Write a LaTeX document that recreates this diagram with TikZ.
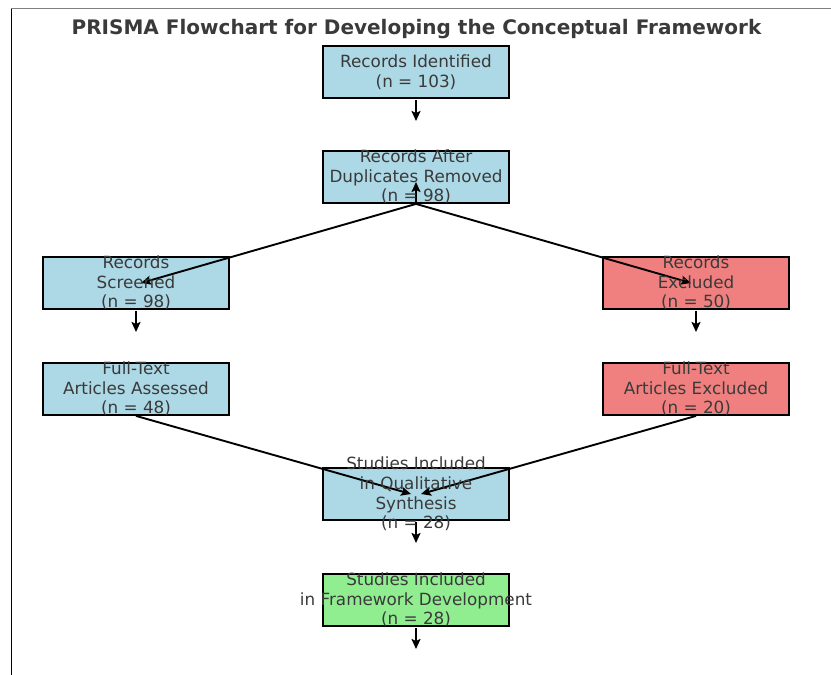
\documentclass[tikz,border=0pt]{standalone}
\usepackage{fontspec}
\setmainfont{DejaVu Sans}
\usetikzlibrary{arrows.meta}
\definecolor{txtgray}{HTML}{3A3A3A}
\definecolor{boxblue}{HTML}{ADD8E6}
\definecolor{boxred}{HTML}{F08080}
\definecolor{boxgreen}{HTML}{90EE90}
\begin{document}
\begin{tikzpicture}[x=1pt,y=-1pt,
  box/.style={draw=black,line width=1.8pt,minimum width=186pt,minimum height=52pt,inner sep=0pt},
  txt/.style={text=txtgray,align=center,inner sep=0pt,font=\fontsize{16.8}{19.7}\selectfont},
  flow/.style={line width=1.9pt,-{Stealth[length=10pt,width=9pt,inset=2pt]}}]
  \useasboundingbox (0,0) rectangle (831,675);
  % frame edges
  \draw[gray,line width=1.3pt] (11,8.5) -- (831,8.5);
  \draw[black,line width=1.3pt] (11.5,8.5) -- (11.5,675);
  % title
  \node[text=txtgray,inner sep=0pt,font=\fontsize{20}{24}\selectfont\bfseries] (title) at (416.5,29.5) {PRISMA Flowchart for Developing the Conceptual Framework};
  % boxes
  \node[box,fill=boxblue] (ident) at (416,72) {};
  \node[box,fill=boxblue] (dup) at (416,177) {};
  \node[box,fill=boxblue] (screen) at (136,283) {};
  \node[box,fill=boxred] (excl) at (696,283) {};
  \node[box,fill=boxblue] (full) at (136,389) {};
  \node[box,fill=boxred] (fullex) at (696,389) {};
  \node[box,fill=boxblue] (qual) at (416,494) {};
  \node[box,fill=boxgreen] (frame) at (416,600) {};
  % connector ends
  \coordinate (identEnd) at (416,121);
  \coordinate (dupTip) at (416,182);
  \coordinate (screenTip) at (141,283);
  \coordinate (exclTip) at (691,283);
  \coordinate (screenEnd) at (136,332);
  \coordinate (exclEnd) at (696,332);
  \coordinate (qualTipL) at (411,494);
  \coordinate (qualTipR) at (421,494);
  \coordinate (qualEnd) at (416,543);
  \coordinate (frameEnd) at (416,649);
  % connectors
  \draw[flow] ([yshift=-1pt]ident.south) -- (identEnd);
  \draw[flow] (dup.south) -- (dupTip);
  \draw[flow] (dup.south) -- (screenTip);
  \draw[flow] (dup.south) -- (exclTip);
  \draw[flow] ([yshift=-1pt]screen.south) -- (screenEnd);
  \draw[flow] ([yshift=-1pt]excl.south) -- (exclEnd);
  \draw[flow] (full.south) -- (qualTipL);
  \draw[flow] (fullex.south) -- (qualTipR);
  \draw[flow] ([yshift=-1pt]qual.south) -- (qualEnd);
  \draw[flow] ([yshift=-1pt]frame.south) -- (frameEnd);
  % labels
  \node[txt] (identT) at (ident.center) {Records Identified\\(n = 103)};
  \node[txt] (dupT) at (dup.center) {Records After\\Duplicates Removed\\(n = 98)};
  \node[txt] (screenT) at (screen.center) {Records\\Screened\\(n = 98)};
  \node[txt] (exclT) at (excl.center) {Records\\Excluded\\(n = 50)};
  \node[txt] (fullT) at (full.center) {Full-Text\\Articles Assessed\\(n = 48)};
  \node[txt] (fullexT) at (fullex.center) {Full-Text\\Articles Excluded\\(n = 20)};
  \node[txt] (qualT) at (qual.center) {Studies Included\\in Qualitative\\Synthesis\\(n = 28)};
  \node[txt] (frameT) at (frame.center) {Studies Included\\in Framework Development\\(n = 28)};
\end{tikzpicture}
\end{document}
